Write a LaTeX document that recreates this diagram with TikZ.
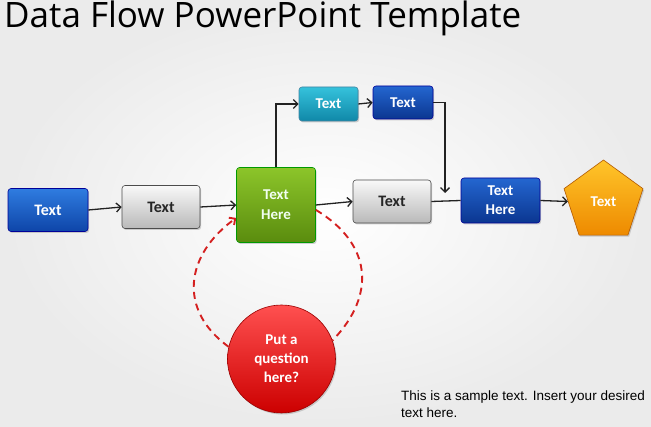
\documentclass[tikz,border=0pt]{standalone}
\usepackage{fontspec}
\setmainfont{Carlito}
\newfontfamily\arialf{Liberation Sans}
\newfontfamily\titlef{Open Sans}
\usetikzlibrary{arrows.meta,shapes.geometric,shadows}
\definecolor{bgedge}{HTML}{E2E2E2}
\definecolor{lineC}{HTML}{222222}
\definecolor{redline}{HTML}{D42020}
\begin{document}
\begin{tikzpicture}[x=1pt,y=-1pt,
  box/.style={rounded corners=3pt, inner sep=0pt, draw=#1!60!black, line width=0.6pt,
    font=\bfseries\fontsize{16}{17}\selectfont, align=center,
    drop shadow={opacity=0.35, shadow xshift=1.2pt, shadow yshift=-1.5pt}},
  bluebox/.style={box=blue, top color=blue1t, bottom color=blue1b, text=white},
  graybox/.style={box=gray, top color=gray!5, bottom color=gray!55, text=black!85},
  conn/.style={draw=lineC, line width=1.3pt, -{Straight Barb[length=4.5pt,width=9pt]}},
  plain/.style={draw=lineC, line width=1.3pt},
  dashconn/.style={draw=redline, line width=1.9pt, dash pattern=on 7pt off 5pt},
]
\definecolor{blue1t}{HTML}{2F7CE0}
\definecolor{blue1b}{HTML}{0E45A8}
\definecolor{navyt}{HTML}{2466D0}
\definecolor{navyb}{HTML}{0B3690}
\definecolor{cyant}{HTML}{35C2DC}
\definecolor{cyanb}{HTML}{1088A8}
\definecolor{greent}{HTML}{8CC52A}
\definecolor{greenb}{HTML}{5A8C0E}
\definecolor{oranget}{HTML}{FFC52A}
\definecolor{orangeb}{HTML}{EE8A00}
\definecolor{redt}{HTML}{FF5050}
\definecolor{redb}{HTML}{CC0000}
\useasboundingbox (0,0) rectangle (651,427);
\fill[bgedge!60] (0,0) rectangle (651,427);
\shade[inner color=white, outer color=bgedge!70] (0,0) rectangle (651,427);

\node[anchor=base west, inner sep=0pt, text=black, font=\titlef\fontsize{35}{38}\selectfont] (title) at (4,28) {Data Flow PowerPoint Template};

\node[bluebox, minimum width=80pt, minimum height=43pt] (b1) at (48,210) {Text};
\node[graybox, minimum width=78pt, minimum height=43pt] (b2) at (161,207) {Text};
\node[box=green, top color=greent, bottom color=greenb, text=white!95!green, minimum width=79pt, minimum height=75pt,
  font=\bfseries\fontsize{15}{20}\selectfont] (g) at (276,205) {Text\\Here};
\node[box=cyan, top color=cyant, bottom color=cyanb, text=white, minimum width=59pt, minimum height=34pt,
  font=\bfseries\fontsize{15}{16}\selectfont] (c) at (328.5,104) {Text};
\node[box=blue, top color=navyt, bottom color=navyb, text=white, minimum width=60pt, minimum height=33pt,
  font=\bfseries\fontsize{15}{16}\selectfont] (d) at (403,102.5) {Text};
\node[graybox, minimum width=78pt, minimum height=43pt] (e) at (392,201.5) {Text};
\node[box=blue, top color=navyt, bottom color=navyb, text=white, minimum width=79pt, minimum height=45pt,
  font=\bfseries\fontsize{15}{19}\selectfont] (f) at (500.5,200.5) {Text\\Here};
\node[regular polygon, regular polygon sides=5, minimum size=83pt, inner sep=0pt,
  draw=orange!70!black, line width=0.6pt, top color=oranget, bottom color=orangeb, text=white,
  font=\bfseries\fontsize{15}{16}\selectfont,
  drop shadow={opacity=0.35, shadow xshift=1.2pt, shadow yshift=-1.5pt}] (p) at (603.5,201.5) {Text};
\node[circle, minimum size=108pt, inner sep=0pt, draw=red!60!black, line width=0.6pt,
  top color=redt, bottom color=redb, text=white, align=center,
  font=\bfseries\fontsize{15}{19}\selectfont,
  drop shadow={opacity=0.35, shadow xshift=1.2pt, shadow yshift=-1.5pt}] (q) at (281.5,359) {Put a\\question\\here?};

\coordinate (m) at (445,193);

\draw[conn] (b1.east) -- (b2.west);
\draw[conn] (b2.east) -- (g.west);
\draw[conn] (g.north) |- (c.west);
\draw[conn] (c.east) -- (d.west);
\draw[conn] (d.east) -| (m);
\draw[conn] (g.east) -- (e.west);
\draw[plain] (e.east) -- (f.west);
\draw[conn] (f.east) -- (p.west);

\draw[dashconn, -{Straight Barb[length=4.5pt,width=9pt]}] (q.167) to[out=144, in=216, looseness=1.25] (g.198);
\draw[dashconn] (g.353) to[out=-31, in=46, looseness=1.25] (q.20);

\node[anchor=north west, inner sep=0pt, align=left, font=\arialf\fontsize{13.5}{17}\selectfont] (s) at (401,391)
  {This is a sample text. Insert your desired\\text here.};
\end{tikzpicture}
\end{document}
